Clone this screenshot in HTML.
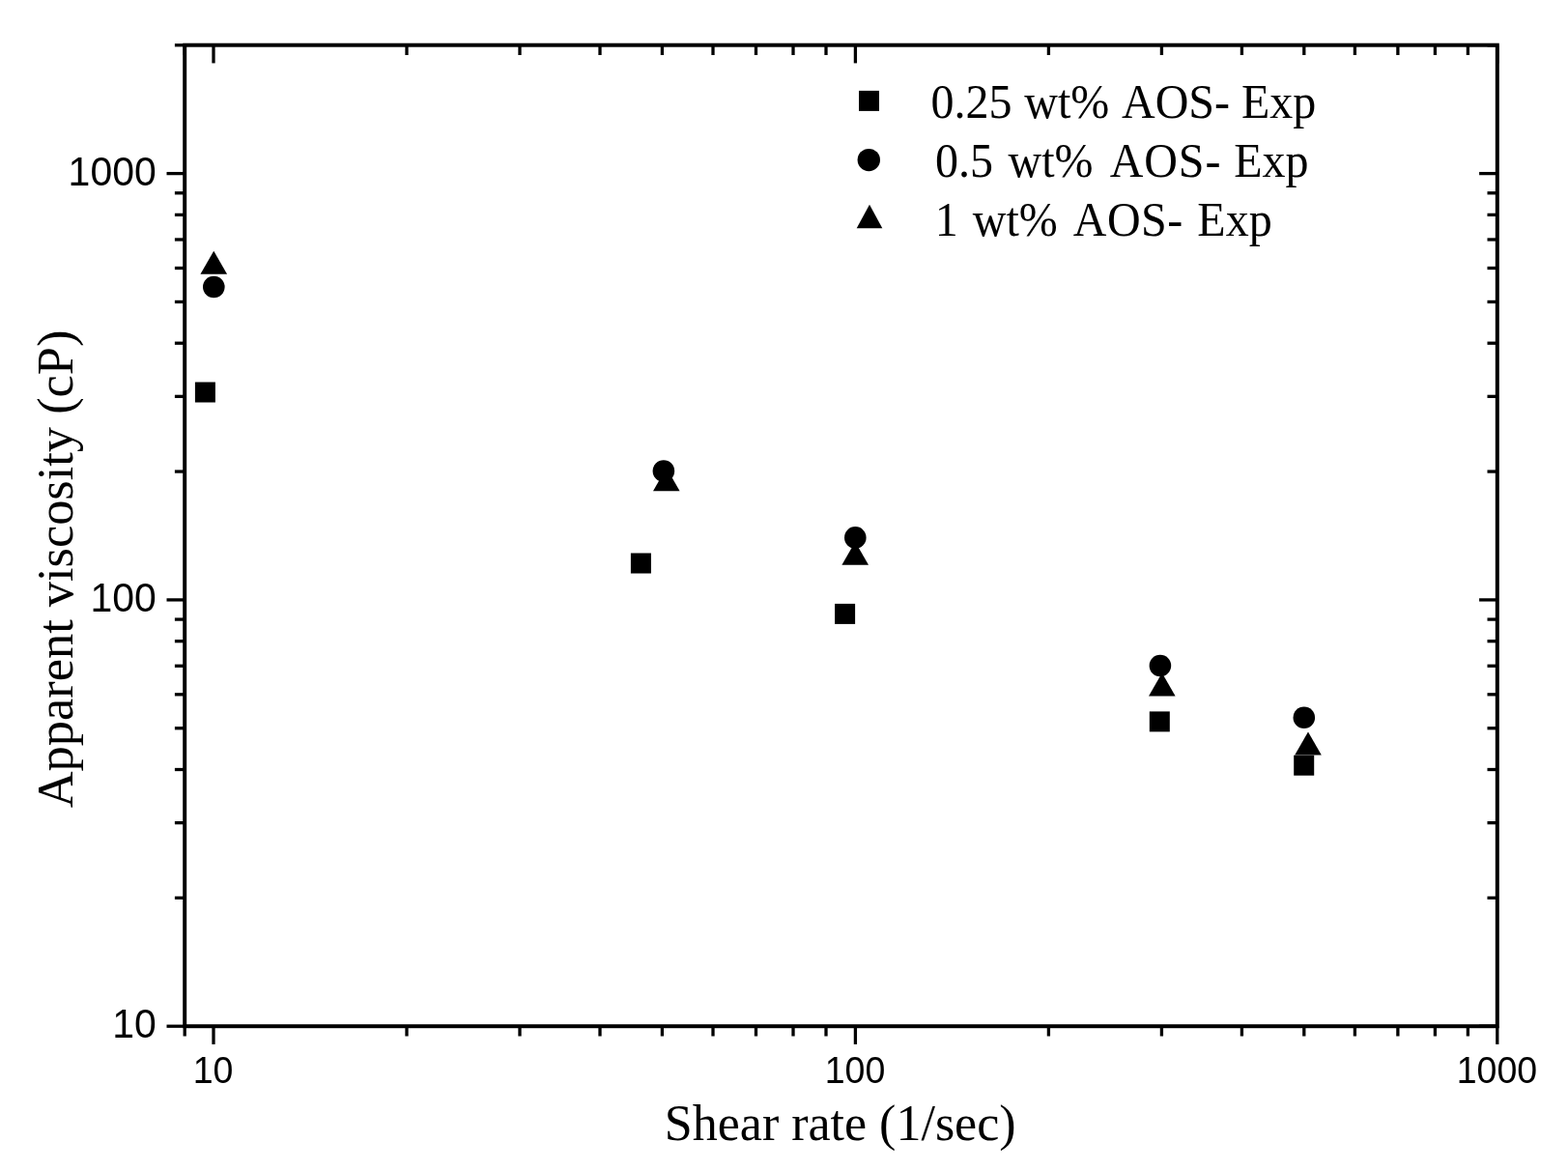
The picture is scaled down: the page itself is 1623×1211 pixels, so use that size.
<!DOCTYPE html>
<html lang="en"><head><meta charset="utf-8"><title>Apparent viscosity vs shear rate</title>
<style>html,body{margin:0;padding:0;background:#fff}body{width:1623px;height:1211px;overflow:hidden}svg{display:block}.t{font-family:"Liberation Sans",Arial,sans-serif;fill:#000}.s{font-family:"Liberation Serif","Times New Roman",serif;fill:#000}</style></head><body>
<svg width="1623" height="1211" viewBox="0 0 1623 1211">
<rect width="1623" height="1211" fill="#fff"/>
<g stroke="#000" stroke-width="3.30" fill="none" stroke-linecap="butt">
<line x1="191.20" y1="1062.20" x2="191.20" y2="1072.50"/>
<line x1="191.20" y1="46.70" x2="191.20" y2="57.00"/>
<line x1="221.00" y1="1062.20" x2="221.00" y2="1080.90"/>
<line x1="221.00" y1="46.70" x2="221.00" y2="65.40"/>
<line x1="421.00" y1="1062.20" x2="421.00" y2="1072.50"/>
<line x1="421.00" y1="46.70" x2="421.00" y2="57.00"/>
<line x1="538.00" y1="1062.20" x2="538.00" y2="1072.50"/>
<line x1="538.00" y1="46.70" x2="538.00" y2="57.00"/>
<line x1="621.01" y1="1062.20" x2="621.01" y2="1072.50"/>
<line x1="621.01" y1="46.70" x2="621.01" y2="57.00"/>
<line x1="685.40" y1="1062.20" x2="685.40" y2="1072.50"/>
<line x1="685.40" y1="46.70" x2="685.40" y2="57.00"/>
<line x1="738.00" y1="1062.20" x2="738.00" y2="1072.50"/>
<line x1="738.00" y1="46.70" x2="738.00" y2="57.00"/>
<line x1="782.48" y1="1062.20" x2="782.48" y2="1072.50"/>
<line x1="782.48" y1="46.70" x2="782.48" y2="57.00"/>
<line x1="821.01" y1="1062.20" x2="821.01" y2="1072.50"/>
<line x1="821.01" y1="46.70" x2="821.01" y2="57.00"/>
<line x1="855.00" y1="1062.20" x2="855.00" y2="1072.50"/>
<line x1="855.00" y1="46.70" x2="855.00" y2="57.00"/>
<line x1="885.40" y1="1062.20" x2="885.40" y2="1080.90"/>
<line x1="885.40" y1="46.70" x2="885.40" y2="65.40"/>
<line x1="1085.40" y1="1062.20" x2="1085.40" y2="1072.50"/>
<line x1="1085.40" y1="46.70" x2="1085.40" y2="57.00"/>
<line x1="1202.40" y1="1062.20" x2="1202.40" y2="1072.50"/>
<line x1="1202.40" y1="46.70" x2="1202.40" y2="57.00"/>
<line x1="1285.41" y1="1062.20" x2="1285.41" y2="1072.50"/>
<line x1="1285.41" y1="46.70" x2="1285.41" y2="57.00"/>
<line x1="1349.80" y1="1062.20" x2="1349.80" y2="1072.50"/>
<line x1="1349.80" y1="46.70" x2="1349.80" y2="57.00"/>
<line x1="1402.40" y1="1062.20" x2="1402.40" y2="1072.50"/>
<line x1="1402.40" y1="46.70" x2="1402.40" y2="57.00"/>
<line x1="1446.88" y1="1062.20" x2="1446.88" y2="1072.50"/>
<line x1="1446.88" y1="46.70" x2="1446.88" y2="57.00"/>
<line x1="1485.41" y1="1062.20" x2="1485.41" y2="1072.50"/>
<line x1="1485.41" y1="46.70" x2="1485.41" y2="57.00"/>
<line x1="1519.40" y1="1062.20" x2="1519.40" y2="1072.50"/>
<line x1="1519.40" y1="46.70" x2="1519.40" y2="57.00"/>
<line x1="1549.80" y1="1062.20" x2="1549.80" y2="1080.90"/>
<line x1="1549.80" y1="46.70" x2="1549.80" y2="65.40"/>
<line x1="172.50" y1="1062.20" x2="191.20" y2="1062.20"/>
<line x1="1531.10" y1="1062.20" x2="1549.80" y2="1062.20"/>
<line x1="180.90" y1="929.36" x2="191.20" y2="929.36"/>
<line x1="1539.50" y1="929.36" x2="1549.80" y2="929.36"/>
<line x1="180.90" y1="851.65" x2="191.20" y2="851.65"/>
<line x1="1539.50" y1="851.65" x2="1549.80" y2="851.65"/>
<line x1="180.90" y1="796.51" x2="191.20" y2="796.51"/>
<line x1="1539.50" y1="796.51" x2="1549.80" y2="796.51"/>
<line x1="180.90" y1="753.74" x2="191.20" y2="753.74"/>
<line x1="1539.50" y1="753.74" x2="1549.80" y2="753.74"/>
<line x1="180.90" y1="718.80" x2="191.20" y2="718.80"/>
<line x1="1539.50" y1="718.80" x2="1549.80" y2="718.80"/>
<line x1="180.90" y1="689.26" x2="191.20" y2="689.26"/>
<line x1="1539.50" y1="689.26" x2="1549.80" y2="689.26"/>
<line x1="180.90" y1="663.67" x2="191.20" y2="663.67"/>
<line x1="1539.50" y1="663.67" x2="1549.80" y2="663.67"/>
<line x1="180.90" y1="641.09" x2="191.20" y2="641.09"/>
<line x1="1539.50" y1="641.09" x2="1549.80" y2="641.09"/>
<line x1="172.50" y1="620.90" x2="191.20" y2="620.90"/>
<line x1="1531.10" y1="620.90" x2="1549.80" y2="620.90"/>
<line x1="180.90" y1="488.06" x2="191.20" y2="488.06"/>
<line x1="1539.50" y1="488.06" x2="1549.80" y2="488.06"/>
<line x1="180.90" y1="410.35" x2="191.20" y2="410.35"/>
<line x1="1539.50" y1="410.35" x2="1549.80" y2="410.35"/>
<line x1="180.90" y1="355.21" x2="191.20" y2="355.21"/>
<line x1="1539.50" y1="355.21" x2="1549.80" y2="355.21"/>
<line x1="180.90" y1="312.44" x2="191.20" y2="312.44"/>
<line x1="1539.50" y1="312.44" x2="1549.80" y2="312.44"/>
<line x1="180.90" y1="277.50" x2="191.20" y2="277.50"/>
<line x1="1539.50" y1="277.50" x2="1549.80" y2="277.50"/>
<line x1="180.90" y1="247.96" x2="191.20" y2="247.96"/>
<line x1="1539.50" y1="247.96" x2="1549.80" y2="247.96"/>
<line x1="180.90" y1="222.37" x2="191.20" y2="222.37"/>
<line x1="1539.50" y1="222.37" x2="1549.80" y2="222.37"/>
<line x1="180.90" y1="199.79" x2="191.20" y2="199.79"/>
<line x1="1539.50" y1="199.79" x2="1549.80" y2="199.79"/>
<line x1="172.50" y1="179.60" x2="191.20" y2="179.60"/>
<line x1="1531.10" y1="179.60" x2="1549.80" y2="179.60"/>
<line x1="180.90" y1="46.76" x2="191.20" y2="46.76"/>
<line x1="1539.50" y1="46.76" x2="1549.80" y2="46.76"/>
</g>
<rect x="191.20" y="46.70" width="1358.60" height="1015.50" fill="none" stroke="#000" stroke-width="4.00"/>
<text class="t" transform="translate(220.60 1121.2) scale(0.955 1)" font-size="39.3" text-anchor="middle">10</text>
<text class="t" transform="translate(885.00 1121.2) scale(0.955 1)" font-size="39.3" text-anchor="middle">100</text>
<text class="t" transform="translate(1549.40 1121.2) scale(0.955 1)" font-size="39.3" text-anchor="middle">1000</text>
<text class="t" transform="translate(161.8 1074.40) scale(1 1.035)" font-size="41" text-anchor="end">10</text>
<text class="t" transform="translate(161.8 633.10) scale(1 1.035)" font-size="41" text-anchor="end">100</text>
<text class="t" transform="translate(161.8 191.80) scale(1 1.035)" font-size="41" text-anchor="end">1000</text>
<text class="s" x="869.7" y="1180.4" font-size="52" text-anchor="middle">Shear rate (1/sec)</text>
<text class="s" transform="translate(75.2 588.9) rotate(-90)" font-size="52.4" text-anchor="middle">Apparent viscosity (cP)</text>
<g fill="#000">
<rect x="201.90" y="395.50" width="21.00" height="21.00"/>
<rect x="652.90" y="572.50" width="21.00" height="21.00"/>
<rect x="864.10" y="624.90" width="21.00" height="21.00"/>
<rect x="1189.80" y="736.40" width="21.00" height="21.00"/>
<rect x="1339.20" y="781.70" width="21.00" height="21.00"/>
<circle cx="221.30" cy="297.00" r="11.30"/>
<circle cx="686.90" cy="487.60" r="11.30"/>
<circle cx="885.30" cy="556.40" r="11.30"/>
<circle cx="1200.90" cy="689.00" r="11.30"/>
<circle cx="1349.80" cy="742.70" r="11.30"/>
<polygon points="221.25,259.80 235.05,283.80 207.45,283.80"/>
<polygon points="689.80,484.30 703.60,508.30 676.00,508.30"/>
<polygon points="885.20,560.80 899.00,584.80 871.40,584.80"/>
<polygon points="1202.80,696.60 1216.60,720.60 1189.00,720.60"/>
<polygon points="1354.00,757.50 1367.80,781.50 1340.20,781.50"/>
<rect x="889.00" y="93.90" width="21.00" height="21.00"/>
<circle cx="899.30" cy="165.60" r="11.70"/>
<polygon points="900.00,211.80 913.30,236.30 886.70,236.30"/>
</g>
<text class="s" transform="translate(0 121.60) scale(1 1.045)" font-size="48" xml:space="preserve"><tspan x="963.55">0.25 </tspan><tspan x="1060.35">wt% </tspan><tspan x="1161.05">AOS- </tspan><tspan x="1284.90">Exp</tspan></text>
<text class="s" transform="translate(0 182.60) scale(1 1.045)" font-size="48" xml:space="preserve"><tspan x="968.05">0.5 </tspan><tspan x="1043.50">wt% </tspan><tspan x="1148.70" letter-spacing="0.9">AOS- </tspan><tspan x="1277.15">Exp</tspan></text>
<text class="s" transform="translate(0 244.30) scale(1 1.045)" font-size="48" xml:space="preserve"><tspan x="967.85">1 </tspan><tspan x="1006.85">wt% </tspan><tspan x="1110.75" letter-spacing="0.5">AOS- </tspan><tspan x="1239.35">Exp</tspan></text>
</svg></body></html>
